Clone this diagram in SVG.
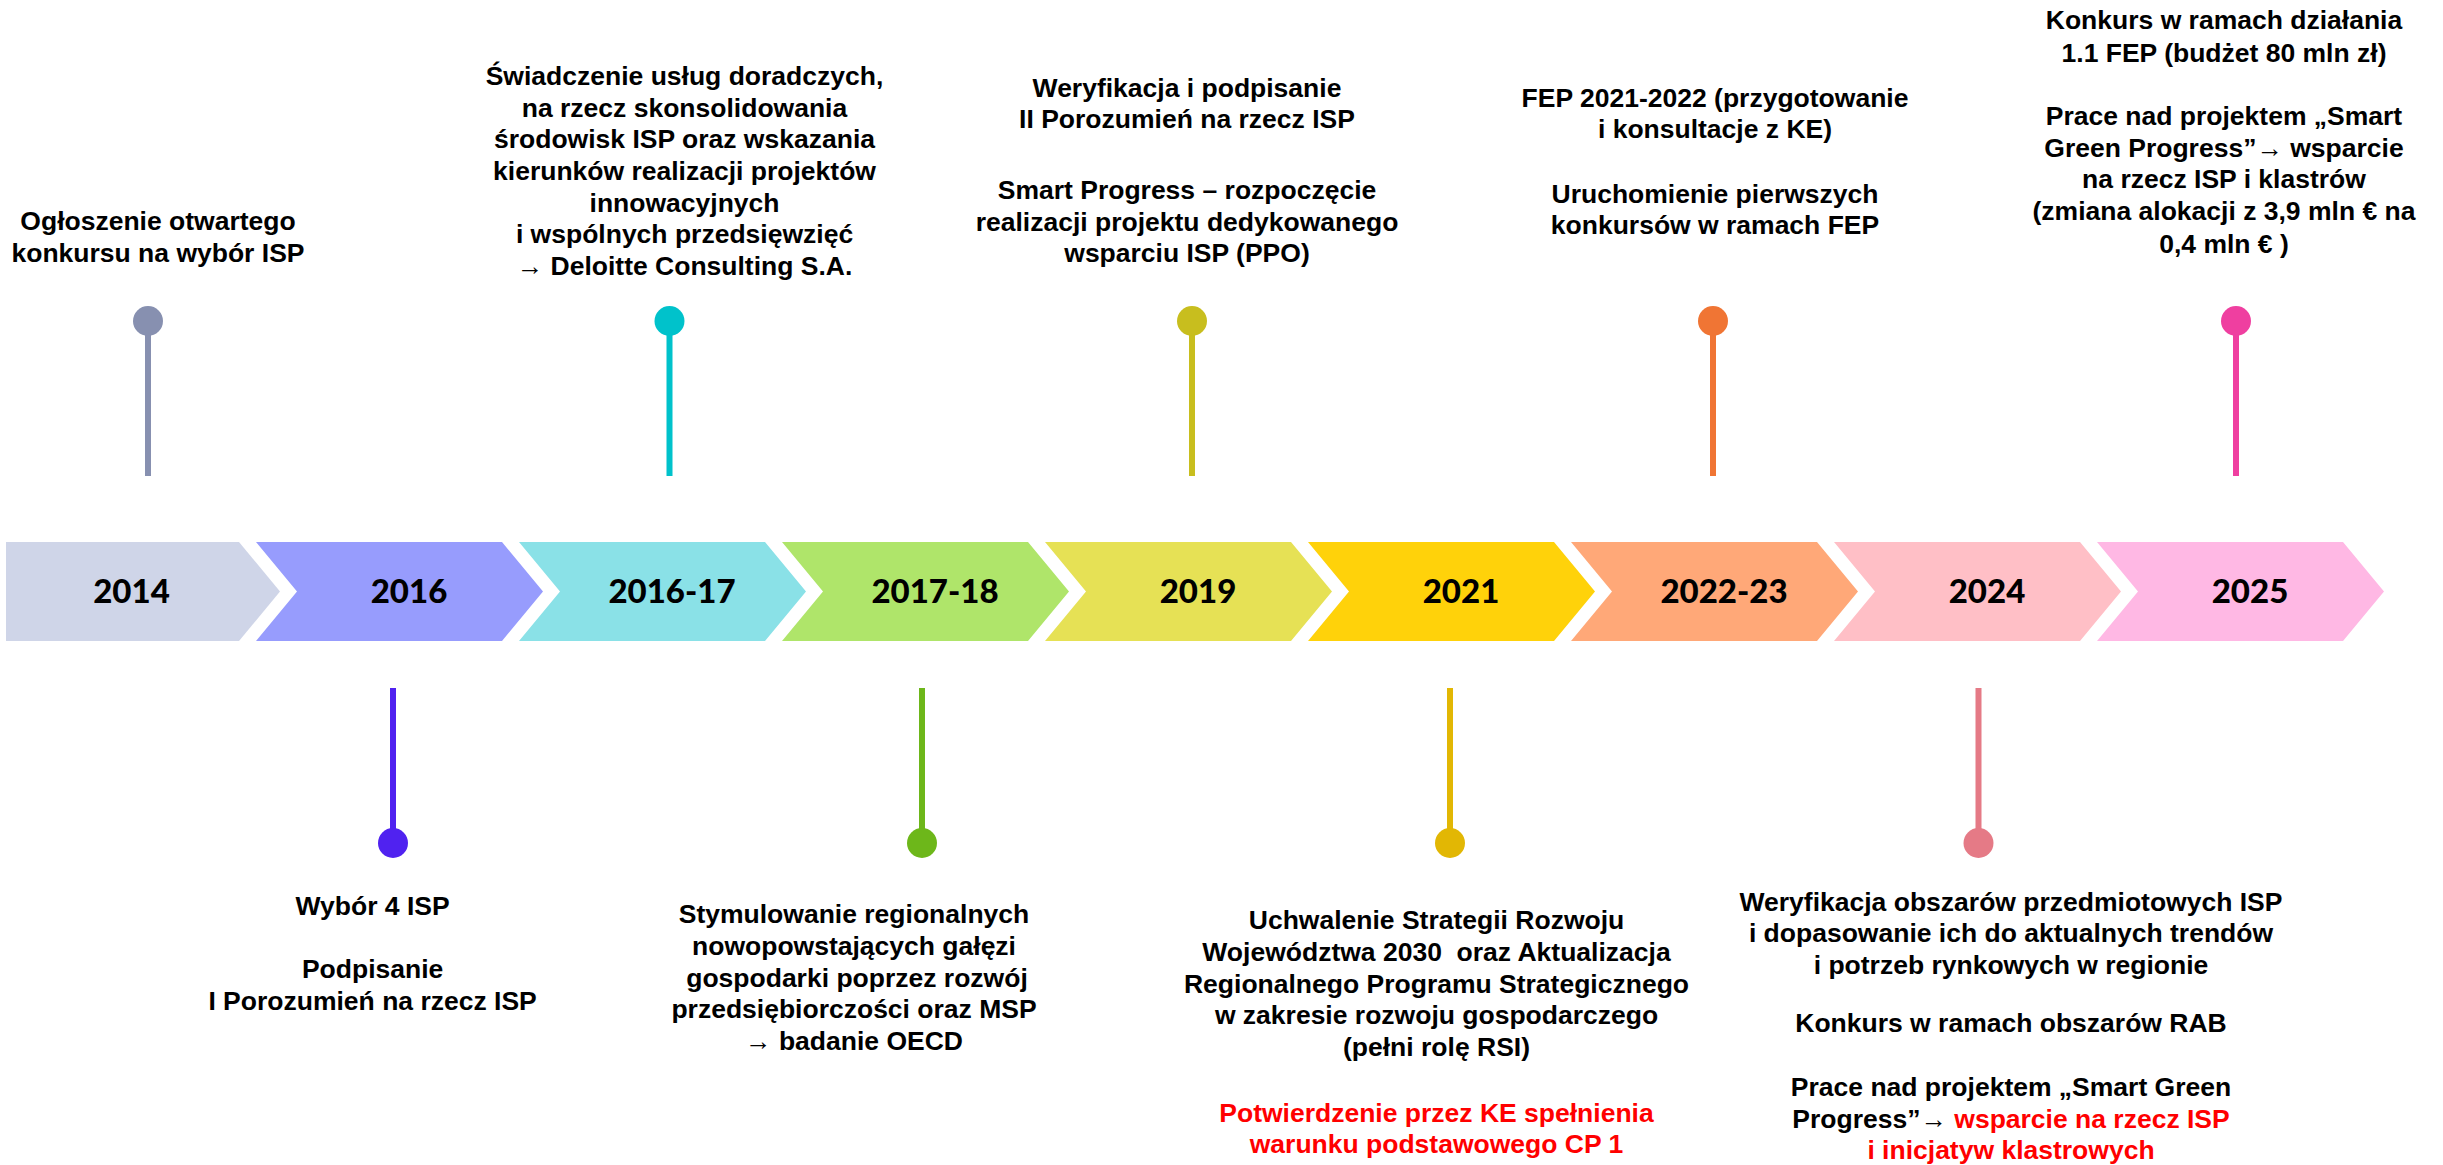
<svg xmlns="http://www.w3.org/2000/svg" width="2443" height="1165" viewBox="0 0 2443 1165">
<style>
.t{font-family:"Liberation Sans",Arial,sans-serif;font-weight:bold;font-size:26.5px;fill:#000;text-anchor:middle}
.r{fill:#FF0000}
.yr{font-family:Lato,"Open Sans",sans-serif;font-weight:900;font-size:33px;fill:#000;text-anchor:middle}
.stem{stroke-width:6;fill:none}
</style>
<rect width="2443" height="1165" fill="#fff"/>
<g id="chevrons">
<g id="c2014"><polygon points="6,542 239,542 280,591.5 239,641 6,641" fill="#CFD5E8"/><text class="yr" x="131.5" y="603">2014</text></g>
<g id="c2016"><polygon points="256,542 502,542 543,591.5 502,641 256,641 297,591.5" fill="#979CFD"/><text class="yr" x="409" y="603">2016</text></g>
<g id="c2016-17"><polygon points="519,542 765,542 806,591.5 765,641 519,641 560,591.5" fill="#8AE1E7"/><text class="yr" x="672" y="603">2016-17</text></g>
<g id="c2017-18"><polygon points="782,542 1028,542 1069,591.5 1028,641 782,641 823,591.5" fill="#AFE56A"/><text class="yr" x="935" y="603">2017-18</text></g>
<g id="c2019"><polygon points="1045,542 1291,542 1332,591.5 1291,641 1045,641 1086,591.5" fill="#E6E155"/><text class="yr" x="1198" y="603">2019</text></g>
<g id="c2021"><polygon points="1308,542 1554,542 1595,591.5 1554,641 1308,641 1349,591.5" fill="#FFD20A"/><text class="yr" x="1461" y="603">2021</text></g>
<g id="c2022-23"><polygon points="1571,542 1817,542 1858,591.5 1817,641 1571,641 1612,591.5" fill="#FFA878"/><text class="yr" x="1724" y="603">2022-23</text></g>
<g id="c2024"><polygon points="1834,542 2080,542 2121,591.5 2080,641 1834,641 1875,591.5" fill="#FFBFC6"/><text class="yr" x="1987" y="603">2024</text></g>
<g id="c2025"><polygon points="2097,542 2343,542 2384,591.5 2343,641 2097,641 2138,591.5" fill="#FFB8E4"/><text class="yr" x="2250" y="603">2025</text></g>
</g>
<g id="connectors">
<line class="stem" x1="148" y1="321" x2="148" y2="476" stroke="#8790B0"/>
<line class="stem" x1="669.5" y1="321" x2="669.5" y2="476" stroke="#00C2CB"/>
<line class="stem" x1="1192" y1="321" x2="1192" y2="476" stroke="#C8BE1E"/>
<line class="stem" x1="1713" y1="321" x2="1713" y2="476" stroke="#F07534"/>
<line class="stem" x1="2236" y1="321" x2="2236" y2="476" stroke="#EF3FA0"/>
<line class="stem" x1="393" y1="688" x2="393" y2="843" stroke="#5022F0"/>
<line class="stem" x1="922" y1="688" x2="922" y2="843" stroke="#6DB71A"/>
<line class="stem" x1="1450" y1="688" x2="1450" y2="843" stroke="#E2B704"/>
<line class="stem" x1="1978.5" y1="688" x2="1978.5" y2="843" stroke="#E57A86"/>
</g>
<g id="e2014">
<circle cx="148" cy="321" r="15" fill="#8790B0"/>
<text class="t"><tspan x="158" y="230">Ogłoszenie otwartego</tspan><tspan x="158" y="261.7">konkursu na wybór ISP</tspan></text>
</g>
<g id="e2016-17">
<circle cx="669.5" cy="321" r="15" fill="#00C2CB"/>
<text class="t"><tspan x="684.5" y="85">Świadczenie usług doradczych,</tspan><tspan x="684.5" y="116.7">na rzecz skonsolidowania</tspan><tspan x="684.5" y="148.4">środowisk ISP oraz wskazania</tspan><tspan x="684.5" y="180">kierunków realizacji projektów</tspan><tspan x="684.5" y="211.7">innowacyjnych</tspan><tspan x="684.5" y="243.4">i wspólnych przedsięwzięć</tspan><tspan x="684.5" y="275">→ Deloitte Consulting S.A.</tspan></text>
</g>
<g id="e2019">
<circle cx="1192" cy="321" r="15" fill="#C8BE1E"/>
<text class="t"><tspan x="1187" y="96.7">Weryfikacja i podpisanie</tspan><tspan x="1187" y="128.4">II Porozumień na rzecz ISP</tspan><tspan x="1187" y="199">Smart Progress – rozpoczęcie</tspan><tspan x="1187" y="230.7">realizacji projektu dedykowanego</tspan><tspan x="1187" y="262.4">wsparciu ISP (PPO)</tspan></text>
</g>
<g id="e2022-23">
<circle cx="1713" cy="321" r="15" fill="#F07534"/>
<text class="t"><tspan x="1715" y="106.7">FEP 2021-2022 (przygotowanie</tspan><tspan x="1715" y="138.4">i konsultacje z KE)</tspan><tspan x="1715" y="202.7">Uruchomienie pierwszych</tspan><tspan x="1715" y="234.4">konkursów w ramach FEP</tspan></text>
</g>
<g id="e2025">
<circle cx="2236" cy="321" r="15" fill="#EF3FA0"/>
<text class="t"><tspan x="2224" y="29.3">Konkurs w ramach działania</tspan><tspan x="2224" y="61.7">1.1 FEP (budżet 80 mln zł)</tspan><tspan x="2224" y="125">Prace nad projektem „Smart</tspan><tspan x="2224" y="156.7">Green Progress”→ wsparcie</tspan><tspan x="2224" y="188.3">na rzecz ISP i klastrów</tspan><tspan x="2224" y="220">(zmiana alokacji z 3,9 mln € na</tspan><tspan x="2224" y="252.7">0,4 mln € )</tspan></text>
</g>
<g id="e2016">
<circle cx="393" cy="843" r="15" fill="#5022F0"/>
<text class="t"><tspan x="372.6" y="915">Wybór 4 ISP</tspan><tspan x="372.6" y="978.3">Podpisanie</tspan><tspan x="372.6" y="1010">I Porozumień na rzecz ISP</tspan></text>
</g>
<g id="e2017-18">
<circle cx="922" cy="843" r="15" fill="#6DB71A"/>
<text class="t"><tspan x="854" y="923.3">Stymulowanie regionalnych</tspan><tspan x="854" y="955">nowopowstających gałęzi</tspan><tspan x="857" y="986.7">gospodarki poprzez rozwój</tspan><tspan x="854" y="1018.4">przedsiębiorczości oraz MSP</tspan><tspan x="854" y="1050">→ badanie OECD</tspan></text>
</g>
<g id="e2021">
<circle cx="1450" cy="843" r="15" fill="#E2B704"/>
<text class="t"><tspan x="1436.5" y="929.3">Uchwalenie Strategii Rozwoju</tspan><tspan x="1436.5" y="961">Województwa 2030&#160; oraz Aktualizacja</tspan><tspan x="1436.5" y="992.7">Regionalnego Programu Strategicznego</tspan><tspan x="1436.5" y="1024.4">w zakresie rozwoju gospodarczego</tspan><tspan x="1436.5" y="1056">(pełni rolę RSI)</tspan><tspan class="r" x="1436.5" y="1121.7">Potwierdzenie przez KE spełnienia</tspan><tspan class="r" x="1436.5" y="1153.4">warunku podstawowego CP 1</tspan></text>
</g>
<g id="e2024">
<circle cx="1978.5" cy="843" r="15" fill="#E57A86"/>
<text class="t"><tspan x="2011" y="910.7">Weryfikacja obszarów przedmiotowych ISP</tspan><tspan x="2011" y="942.4">i dopasowanie ich do aktualnych trendów</tspan><tspan x="2011" y="974">i potrzeb rynkowych w regionie</tspan><tspan x="2011" y="1031.7">Konkurs w ramach obszarów RAB</tspan><tspan x="2011" y="1096">Prace nad projektem „Smart Green</tspan></text>
<text class="t" x="2011" y="1127.7">Progress”→ <tspan class="r">wsparcie na rzecz ISP</tspan></text>
<text class="t r" x="2011" y="1159.4">i inicjatyw klastrowych</text>
</g>
</svg>
